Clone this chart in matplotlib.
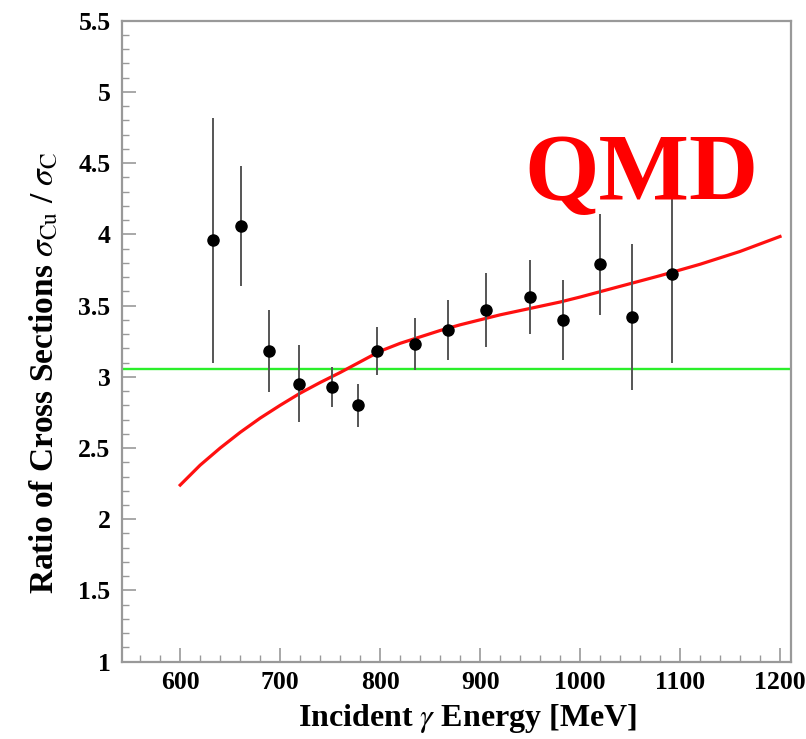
import matplotlib
matplotlib.use("Agg")
import matplotlib.pyplot as plt
from matplotlib.ticker import MultipleLocator

# ---- data ----
energy = [633, 661, 689, 719, 752, 778, 797, 835, 868, 906, 950, 983, 1020, 1052, 1092]
ratio = [3.96, 4.06, 3.18, 2.95, 2.93, 2.80, 3.18, 3.23, 3.33, 3.47, 3.56, 3.40, 3.79, 3.42, 3.72]
ratio_err = [0.86, 0.42, 0.29, 0.27, 0.14, 0.15, 0.17, 0.18, 0.21, 0.26, 0.26, 0.28, 0.355, 0.51, 0.62]

qmd_energy = [600, 610, 620, 630, 640, 660, 680, 700, 720, 740, 760, 780, 800, 820, 840, 860,
              880, 900, 920, 940, 960, 980, 1000, 1040, 1080, 1120, 1160, 1200]
qmd_ratio = [2.24, 2.31, 2.38, 2.44, 2.50, 2.61, 2.71, 2.80, 2.885, 2.96, 3.03, 3.105, 3.18,
             3.235, 3.28, 3.325, 3.365, 3.40, 3.435, 3.465, 3.495, 3.525, 3.56, 3.635,
             3.71, 3.79, 3.88, 3.985]

mean_ratio = 3.052

x_ticks = [600, 700, 800, 900, 1000, 1100, 1200]
y_ticks = [1, 1.5, 2, 2.5, 3, 3.5, 4, 4.5, 5, 5.5]
y_tick_labels = ["1", "1.5", "2", "2.5", "3", "3.5", "4", "4.5", "5", "5.5"]

plt.rcParams['font.family'] = ['Liberation Serif', 'DejaVu Serif']
plt.rcParams['mathtext.fontset'] = 'stix'

fig = plt.figure(figsize=(8.06, 7.39), dpi=100)
ax = fig.add_axes([0.151, 0.1046, 0.831, 0.8674])

ax.axhline(mean_ratio, color='#2bef2b', lw=1.7, zorder=2)
ax.plot(qmd_energy, qmd_ratio, color='#ff1010', lw=2.3, zorder=3)
ax.errorbar(energy, ratio, yerr=ratio_err, fmt='o', color='black', ms=8,
            ecolor='#555555', elinewidth=1.4, capsize=0, zorder=4)

ax.text(1061, 4.24, "QMD", color='#ff0000', fontsize=69, fontweight='bold',
        ha='center', va='baseline', family='Liberation Serif', zorder=5)

ax.set_xlim(541.5, 1211.5)
ax.set_ylim(1, 5.5)
ax.set_xticks(x_ticks)
ax.set_yticks(y_ticks)
ax.set_yticklabels(y_tick_labels)
ax.xaxis.set_minor_locator(MultipleLocator(20))
ax.yaxis.set_minor_locator(MultipleLocator(0.1))

for sp in ax.spines.values():
    sp.set_color('#999999')
    sp.set_linewidth(1.6)

ax.tick_params(axis='both', which='both', direction='in', color='#999999',
               top=False, right=False)
ax.tick_params(axis='both', which='major', length=10, width=1.2, labelsize=18.5, pad=8)
ax.tick_params(axis='both', which='minor', length=5, width=1.0)
ax.tick_params(axis='x', which='major', pad=7)
for lab in ax.get_xticklabels() + ax.get_yticklabels():
    lab.set_fontweight('bold')

ax.set_xlabel(r"Incident $\gamma$ Energy [MeV]", fontsize=23, fontweight='bold')
ax.xaxis.set_label_coords(0.516, -0.100)
ax.xaxis.label.set_va('baseline')

ax.set_ylabel(r"Ratio of Cross Sections $\sigma_{\mathrm{Cu}}$ / $\sigma_{\mathrm{C}}$",
              fontsize=24, fontweight='bold')
ax.yaxis.set_label_coords(-0.1025, 0.45)
ax.yaxis.label.set_va('baseline')

fig.savefig("out.png", dpi=100)
